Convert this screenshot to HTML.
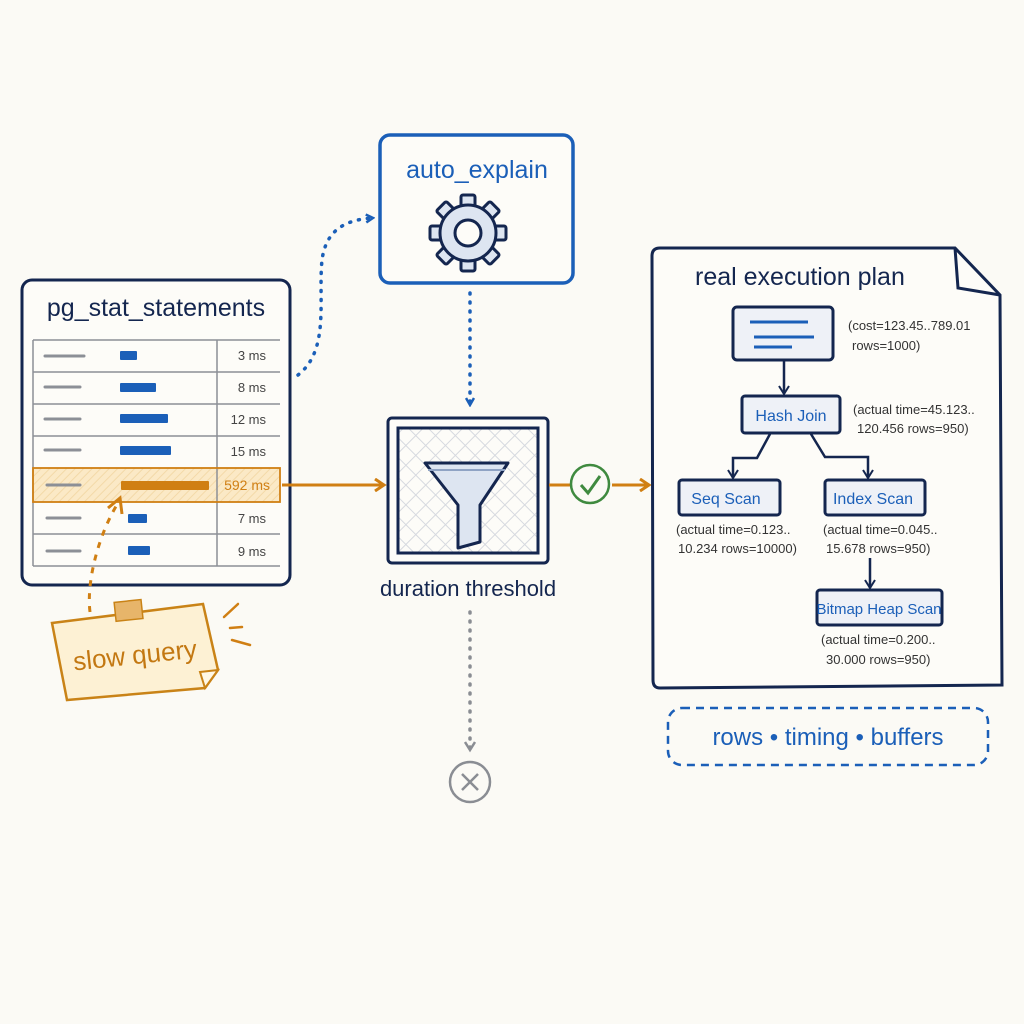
<!DOCTYPE html>
<html><head><meta charset="utf-8"><style>
html,body{margin:0;padding:0;background:#fbfaf5;}
svg{display:block;}
text{font-family:"Liberation Sans",sans-serif;}
</style></head><body>
<svg width="1024" height="1024" viewBox="0 0 1024 1024" xmlns="http://www.w3.org/2000/svg">
<defs>
<pattern id="hatch" width="6" height="6" patternUnits="userSpaceOnUse" patternTransform="rotate(45)">
<line x1="0" y1="0" x2="0" y2="6" stroke="#c9d3e3" stroke-width="1.2"/></pattern>
<pattern id="grid" width="14" height="14" patternUnits="userSpaceOnUse" patternTransform="rotate(45)">
<rect width="14" height="14" fill="none" stroke="#d6d9df" stroke-width="1"/></pattern>
<pattern id="ohatch" width="6" height="6" patternUnits="userSpaceOnUse" patternTransform="rotate(45)">
<line x1="0" y1="0" x2="0" y2="6" stroke="#f3d9a8" stroke-width="2"/></pattern>
<marker id="ab" markerWidth="10" markerHeight="10" refX="7" refY="5" orient="auto" markerUnits="userSpaceOnUse"><path d="M1,1 L8,5 L1,9" fill="none" stroke="#1b5fb8" stroke-width="2.5"/></marker>
<marker id="ao" markerWidth="14" markerHeight="14" refX="11" refY="7" orient="auto" markerUnits="userSpaceOnUse"><path d="M2,1 L11,7 L2,13" fill="none" stroke="#d07f13" stroke-width="3"/></marker>
<marker id="an" markerWidth="12" markerHeight="12" refX="9" refY="6" orient="auto" markerUnits="userSpaceOnUse"><path d="M1,1 L9,6 L1,11" fill="none" stroke="#14264f" stroke-width="2"/></marker>
<marker id="ag" markerWidth="12" markerHeight="12" refX="9" refY="6" orient="auto" markerUnits="userSpaceOnUse"><path d="M1,1 L9,6 L1,11" fill="none" stroke="#8a8d93" stroke-width="2.5"/></marker>
</defs>
<rect width="1024" height="1024" fill="#fbfaf5"/>

<!-- pg_stat_statements -->
<rect x="22" y="280" width="268" height="305" rx="10" fill="#fdfcf8" stroke="#14264f" stroke-width="3"/>
<text x="156" y="316" text-anchor="middle" font-size="25" fill="#14264f">pg_stat_statements</text>
<rect x="33" y="468" width="247" height="34" fill="#fbe9c6"/>
<rect x="33" y="468" width="247" height="34" fill="url(#ohatch)"/>
<g stroke="#8c8f96" stroke-width="1.5" fill="none">
<line x1="33" y1="340" x2="280" y2="340"/><line x1="33" y1="372" x2="280" y2="372"/>
<line x1="33" y1="404" x2="280" y2="404"/><line x1="33" y1="436" x2="280" y2="436"/>
<line x1="33" y1="534" x2="280" y2="534"/><line x1="33" y1="566" x2="280" y2="566"/>
<line x1="33" y1="340" x2="33" y2="566"/><line x1="217" y1="340" x2="217" y2="566"/>
</g>
<rect x="33" y="468" width="247" height="34" fill="none" stroke="#d07f13" stroke-width="1.8"/>
<g stroke="#8c8f96" stroke-width="3" stroke-linecap="round">
<line x1="45" y1="356" x2="84" y2="356"/><line x1="45" y1="387" x2="80" y2="387"/>
<line x1="45" y1="419" x2="80" y2="419"/><line x1="45" y1="450" x2="80" y2="450"/>
<line x1="47" y1="485" x2="80" y2="485"/><line x1="47" y1="518" x2="80" y2="518"/>
<line x1="47" y1="551" x2="80" y2="551"/>
</g>
<g fill="#1b5fb8">
<rect x="120" y="351" width="17" height="9" rx="1"/><rect x="120" y="383" width="36" height="9" rx="1"/>
<rect x="120" y="414" width="48" height="9" rx="1"/><rect x="120" y="446" width="51" height="9" rx="1"/>
<rect x="128" y="514" width="19" height="9" rx="1"/><rect x="128" y="546" width="22" height="9" rx="1"/>
</g>
<rect x="121" y="481" width="88" height="9" rx="1" fill="#d07f13"/>
<g font-size="13" fill="#444" text-anchor="end">
<text x="266" y="360">3 ms</text><text x="266" y="392">8 ms</text><text x="266" y="424">12 ms</text>
<text x="266" y="456">15 ms</text><text x="266" y="523">7 ms</text><text x="266" y="556">9 ms</text>
</g>
<text x="270" y="490" text-anchor="end" font-size="14" fill="#d07f13">592 ms</text>

<!-- slow query note -->
<path d="M90,612 C86,580 100,530 120,500" fill="none" stroke="#d07f13" stroke-width="3" stroke-dasharray="6,7"/>
<path d="M108,508 L120,498 L122,514" fill="none" stroke="#d07f13" stroke-width="3"/>
<polygon points="52,623 203,604 218,670 205,688 67,700" fill="#fdf1d4" stroke="#c98317" stroke-width="2.5"/>
<polygon points="205,688 218,670 200,672" fill="#fff8e6" stroke="#c98317" stroke-width="2"/>
<rect x="115" y="601" width="27" height="19" fill="#e7b56a" stroke="#c98317" stroke-width="1.5" transform="rotate(-6 128 610)"/>
<text x="135" y="664" text-anchor="middle" font-size="26" fill="#c37812" transform="rotate(-6 135 655)">slow query</text>
<g stroke="#d07f13" stroke-width="2.5" stroke-linecap="round">
<line x1="224" y1="617" x2="238" y2="604"/><line x1="230" y1="628" x2="242" y2="627"/><line x1="232" y1="640" x2="250" y2="645"/>
</g>

<!-- arrows -->
<line x1="282" y1="485" x2="384" y2="485" stroke="#d07f13" stroke-width="3" marker-end="url(#ao)"/>
<path d="M298,375 C330,350 318,300 322,260 C326,230 345,220 372,218" fill="none" stroke="#1b5fb8" stroke-width="3.5" stroke-dasharray="1,8" stroke-linecap="round" marker-end="url(#ab)"/>
<line x1="470" y1="293" x2="470" y2="404" stroke="#1b5fb8" stroke-width="3.5" stroke-dasharray="1,8" stroke-linecap="round" marker-end="url(#ab)"/>

<!-- auto_explain -->
<rect x="380" y="135" width="193" height="148" rx="10" fill="#fdfcf8" stroke="#1b5fb8" stroke-width="3.5"/>
<text x="477" y="178" text-anchor="middle" font-size="25" fill="#1b5fb8">auto_explain</text>
<g transform="translate(468,233)" stroke="#14264f" stroke-width="3" fill="#dde5f1">
<g>
<rect x="-7" y="-38" width="14" height="14" rx="2"/>
<rect x="-7" y="-38" width="14" height="14" rx="2" transform="rotate(45)"/>
<rect x="-7" y="-38" width="14" height="14" rx="2" transform="rotate(90)"/>
<rect x="-7" y="-38" width="14" height="14" rx="2" transform="rotate(135)"/>
<rect x="-7" y="-38" width="14" height="14" rx="2" transform="rotate(180)"/>
<rect x="-7" y="-38" width="14" height="14" rx="2" transform="rotate(225)"/>
<rect x="-7" y="-38" width="14" height="14" rx="2" transform="rotate(270)"/>
<rect x="-7" y="-38" width="14" height="14" rx="2" transform="rotate(315)"/>
</g>
<circle r="28"/>
<g stroke="none" fill="#dde5f1">
<circle r="26"/></g>
<circle r="13" fill="#fdfcf8"/>
</g>

<!-- duration threshold -->
<rect x="388" y="418" width="160" height="145" rx="4" fill="#fdfcf8" stroke="#14264f" stroke-width="3"/>
<rect x="398" y="428" width="140" height="125" fill="url(#grid)" stroke="#14264f" stroke-width="3"/>
<path d="M425,463 L508,463 L480,505 L480,542 L458,548 L458,505 Z" fill="#dde5f1" stroke="#14264f" stroke-width="3" stroke-linejoin="round"/>
<line x1="428" y1="470" x2="505" y2="470" stroke="#8fa3c4" stroke-width="2"/>
<text x="468" y="596" text-anchor="middle" font-size="22" fill="#14264f">duration threshold</text>
<line x1="470" y1="612" x2="470" y2="750" stroke="#8a8d93" stroke-width="3.5" stroke-dasharray="1,8" stroke-linecap="round" marker-end="url(#ag)"/>
<circle cx="470" cy="782" r="20" fill="none" stroke="#8a8d93" stroke-width="2.5"/>
<path d="M462,774 L478,790 M478,774 L462,790" stroke="#8a8d93" stroke-width="2.5"/>

<line x1="549" y1="485" x2="571" y2="485" stroke="#d07f13" stroke-width="3"/>
<circle cx="590" cy="484" r="19" fill="none" stroke="#3f8a3f" stroke-width="2.5"/>
<path d="M581,485 L588,493 L600,476" fill="none" stroke="#3f8a3f" stroke-width="3"/>
<line x1="612" y1="485" x2="649" y2="485" stroke="#d07f13" stroke-width="3" marker-end="url(#ao)"/>

<!-- plan doc -->
<path d="M660,248 L955,248 L1000,295 L1002,685 L660,688 Q653,688 653,680 L652,256 Q652,248 660,248 Z" fill="#fdfcf8" stroke="#14264f" stroke-width="3"/>
<path d="M955,248 L958,288 L1000,295" fill="none" stroke="#14264f" stroke-width="3"/>
<text x="695" y="285" font-size="25" fill="#14264f">real execution plan</text>

<rect x="733" y="307" width="100" height="53" rx="4" fill="#eef1f7" stroke="#14264f" stroke-width="3"/>
<g stroke="#1b5fb8" stroke-width="3"><line x1="750" y1="322" x2="808" y2="322"/><line x1="754" y1="337" x2="814" y2="337"/><line x1="754" y1="347" x2="792" y2="347"/></g>
<text x="848" y="330" font-size="13" fill="#333">(cost=123.45..789.01</text>
<text x="852" y="350" font-size="13" fill="#333">rows=1000)</text>
<line x1="784" y1="361" x2="784" y2="394" stroke="#14264f" stroke-width="2.5" marker-end="url(#an)"/>

<rect x="742" y="396" width="98" height="37" rx="3" fill="#eef1f7" stroke="#14264f" stroke-width="3"/>
<text x="791" y="421" text-anchor="middle" font-size="16" fill="#1b5fb8">Hash Join</text>
<text x="853" y="414" font-size="13" fill="#333">(actual time=45.123..</text>
<text x="857" y="433" font-size="13" fill="#333">120.456 rows=950)</text>
<path d="M770,434 L757,458 L733,458 L733,478" fill="none" stroke="#14264f" stroke-width="2.5" marker-end="url(#an)"/>
<path d="M811,434 L825,457 L868,457 L868,478" fill="none" stroke="#14264f" stroke-width="2.5" marker-end="url(#an)"/>

<rect x="679" y="480" width="101" height="35" rx="3" fill="#eef1f7" stroke="#14264f" stroke-width="3"/>
<text x="726" y="504" text-anchor="middle" font-size="16" fill="#1b5fb8">Seq Scan</text>
<text x="676" y="534" font-size="13" fill="#333">(actual time=0.123..</text>
<text x="678" y="553" font-size="13" fill="#333">10.234 rows=10000)</text>

<rect x="825" y="480" width="100" height="35" rx="3" fill="#eef1f7" stroke="#14264f" stroke-width="3"/>
<text x="873" y="504" text-anchor="middle" font-size="16" fill="#1b5fb8">Index Scan</text>
<text x="823" y="534" font-size="13" fill="#333">(actual time=0.045..</text>
<text x="826" y="553" font-size="13" fill="#333">15.678 rows=950)</text>
<line x1="870" y1="558" x2="870" y2="588" stroke="#14264f" stroke-width="2.5" marker-end="url(#an)"/>

<rect x="817" y="590" width="125" height="35" rx="3" fill="#eef1f7" stroke="#14264f" stroke-width="3"/>
<text x="879" y="614" text-anchor="middle" font-size="15" fill="#1b5fb8">Bitmap Heap Scan</text>
<text x="821" y="644" font-size="13" fill="#333">(actual time=0.200..</text>
<text x="826" y="664" font-size="13" fill="#333">30.000 rows=950)</text>

<rect x="668" y="708" width="320" height="57" rx="14" fill="none" stroke="#1b5fb8" stroke-width="2.5" stroke-dasharray="8,6"/>
<text x="828" y="745" text-anchor="middle" font-size="24" fill="#1b5fb8">rows • timing • buffers</text>
</svg>
</body></html>
